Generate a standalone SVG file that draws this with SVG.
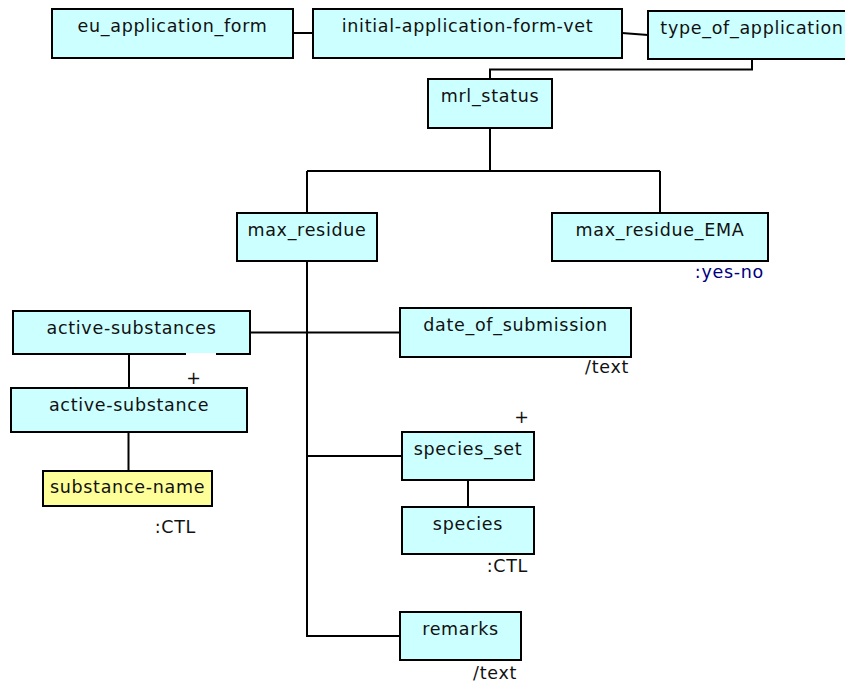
<svg xmlns="http://www.w3.org/2000/svg" width="845" height="682" viewBox="0 0 845 682">
<style>
.box{fill:#ccffff;stroke:#000;stroke-width:2}
.leaf{fill:#ffff99;stroke:#000;stroke-width:2}
.lbl{font-family:"DejaVu Sans","Verdana",sans-serif;font-size:17.5px;letter-spacing:0.7px;fill:#111;text-anchor:middle}
.ann{font-family:"DejaVu Sans","Verdana",sans-serif;font-size:17.5px;letter-spacing:0.7px;fill:#111;text-anchor:end}
.type{fill:#000080}
.conn path{fill:none;stroke:#000;stroke-width:2}
</style>
<rect width="845" height="682" fill="#fff"/>
<g class="conn" id="connectors">
<path d="M293 33H313"/>
<path d="M622 33L648 35"/>
<path d="M752 59V69.5H490V79"/>
<path d="M490 128V171"/>
<path d="M307 171H660"/>
<path d="M307 171V213"/>
<path d="M660 171V213"/>
<path d="M307 261V636H400"/>
<path d="M250 332.5H400"/>
<path d="M307 456H402"/>
<path d="M129 354V388"/>
<path d="M128.5 432V471"/>
<path d="M468 480V507"/>
</g>
<g id="eu_application_form"><rect class="box" x="52" y="9" width="241" height="49"/><text class="lbl" x="172.5" y="32">eu_application_form</text></g>
<g id="initial-application-form-vet"><rect class="box" x="313" y="9" width="309" height="49"/><text class="lbl" x="467.5" y="32">initial-application-form-vet</text></g>
<g id="type_of_application"><rect class="box" x="648" y="11" width="208" height="48"/><text class="lbl" x="752" y="34">type_of_application</text></g>
<g id="mrl_status"><rect class="box" x="428" y="79" width="124" height="49"/><text class="lbl" x="490" y="102">mrl_status</text></g>
<g id="max_residue"><rect class="box" x="237" y="213" width="140" height="48"/><text class="lbl" x="307" y="236">max_residue</text></g>
<g id="max_residue_EMA"><rect class="box" x="552" y="213" width="216" height="48"/><text class="lbl" x="660" y="236">max_residue_EMA</text><text class="ann type" x="764" y="278">:yes-no</text></g>
<g id="active-substances"><rect class="box" x="13" y="311" width="237" height="43"/><text class="lbl" x="131.5" y="334">active-substances</text><rect x="186" y="353" width="30" height="2" fill="#fff"/></g>
<g id="active-substance"><rect class="box" x="11" y="388" width="236" height="44"/><text class="lbl" x="129" y="411">active-substance</text><text class="lbl" x="194" y="384">+</text></g>
<g id="substance-name"><rect class="leaf" x="43" y="471" width="169" height="35"/><text class="lbl" x="127.5" y="493">substance-name</text><text class="ann" x="196" y="533">:CTL</text></g>
<g id="date_of_submission"><rect class="box" x="400" y="308" width="231" height="49"/><text class="lbl" x="515.5" y="331">date_of_submission</text><text class="ann" x="629" y="373">/text</text></g>
<g id="species_set"><rect class="box" x="402" y="432" width="132" height="48"/><text class="lbl" x="468" y="455">species_set</text><text class="lbl" x="522" y="423">+</text></g>
<g id="species"><rect class="box" x="402" y="507" width="132" height="47"/><text class="lbl" x="468" y="530">species</text><text class="ann" x="528" y="572">:CTL</text></g>
<g id="remarks"><rect class="box" x="400" y="612" width="121" height="48"/><text class="lbl" x="460.5" y="635">remarks</text><text class="ann" x="517" y="679">/text</text></g>
</svg>
